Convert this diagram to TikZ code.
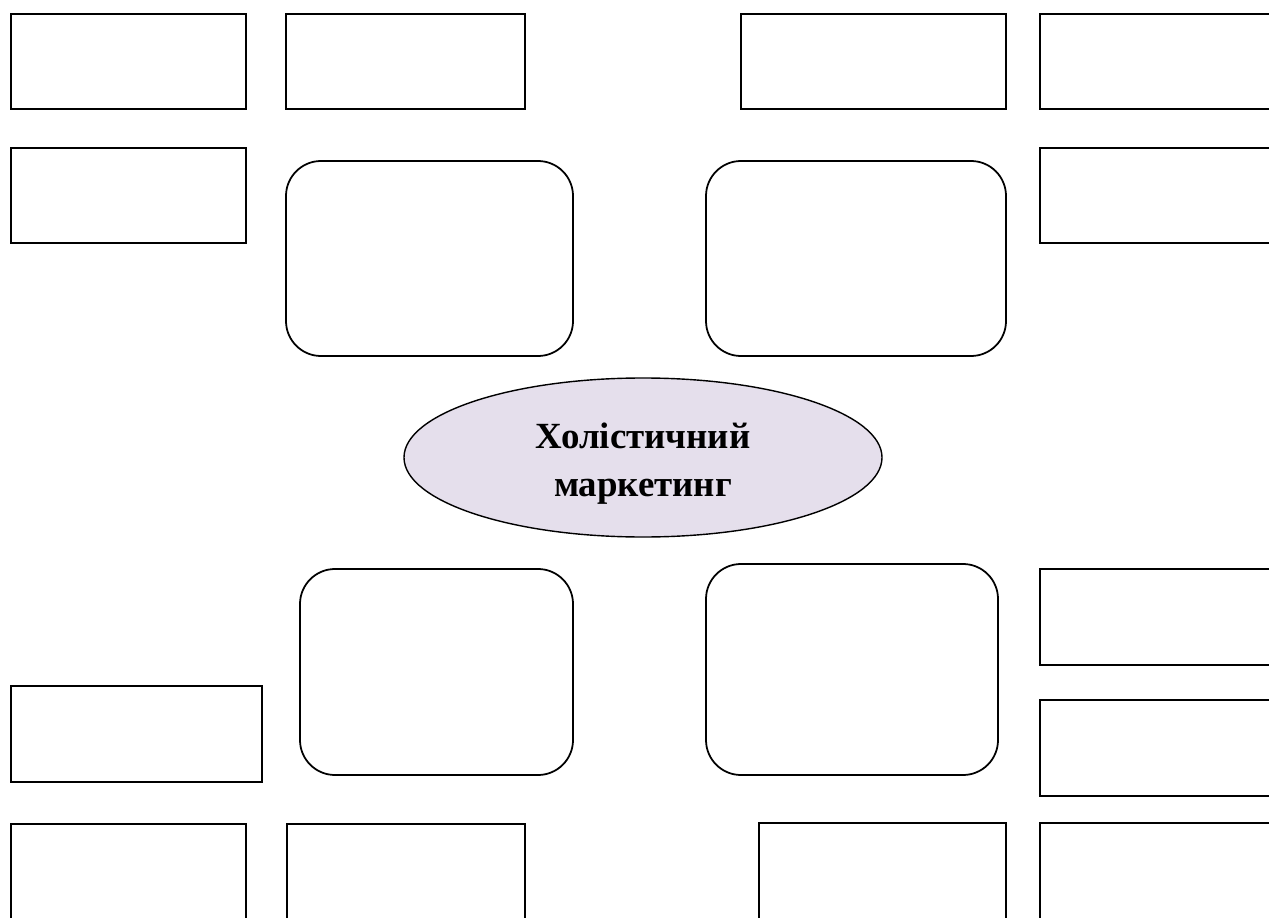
\documentclass[tikz,border=0pt]{standalone}
\usepackage{fontspec}
\setmainfont{Liberation Serif}
\usepackage{xcolor}
\usepackage{tikz}
\usetikzlibrary{
  positioning,
  shapes.geometric
}
\definecolor{ellfill}{HTML}{E5DFEC}
\tikzset{
  plainbox/.style={rectangle,draw,line width=1pt,inner sep=0pt},
  roundbox/.style={rectangle,draw,line width=1pt,rounded corners=7mm,inner sep=0pt},
  core/.style={ellipse,draw,line width=0.8pt,fill=ellfill,inner sep=0pt},
  coretext/.style={align=center,inner sep=0pt,font=\fontsize{21}{27}\selectfont\bfseries}
}

\begin{document}
\begin{tikzpicture}[x=0.2mm,y=-0.2mm]
    \clip (0,0) rectangle (1269,918);

    % Верхній ряд
    \node[plainbox,minimum width=47mm,minimum height=19mm] (top1) at (128.5,61.5) {};
    \node[plainbox,minimum width=47.8mm,minimum height=19mm] (top2) at (405.5,61.5) {};
    \node[plainbox,minimum width=53mm,minimum height=19mm] (top3) at (873.5,61.5) {};
    \node[plainbox,minimum width=52mm,minimum height=19mm] (top4) at (1170,61.5) {};

    % Другий ряд
    \node[plainbox,minimum width=47mm,minimum height=19mm] (left1) at (128.5,195.5) {};
    \node[plainbox,minimum width=52mm,minimum height=19mm] (right1) at (1170,195.5) {};

    % Заокруглені блоки
    \node[roundbox,minimum width=57.4mm,minimum height=39mm] (rnd1) at (429.5,258.5) {};
    \node[roundbox,minimum width=60mm,minimum height=39mm] (rnd2) at (856,258.5) {};
    \node[roundbox,minimum width=54.6mm,minimum height=41.2mm] (rnd3) at (436.5,672) {};
    \node[roundbox,minimum width=58.4mm,minimum height=42.2mm] (rnd4) at (852,669.5) {};

    % Центр
    \node[core,minimum width=95.6mm,minimum height=31.8mm] (holist) at (643,457.5) {};
    \node[coretext] (holisttext) at ([yshift=-1.2mm]holist.center) {Холістичний\\маркетинг};

    % Праворуч унизу
    \node[plainbox,minimum width=52mm,minimum height=19.2mm] (right2) at (1170,617) {};
    \node[plainbox,minimum width=52mm,minimum height=19.2mm] (right3) at (1170,748) {};

    % Ліворуч унизу
    \node[plainbox,minimum width=50.2mm,minimum height=19.2mm] (left2) at (136.5,734) {};

    % Нижній ряд
    \node[plainbox,minimum width=47mm,minimum height=20mm] (bot1) at (128.5,874) {};
    \node[plainbox,minimum width=47.6mm,minimum height=20mm] (bot2) at (406,874) {};
    \node[plainbox,minimum width=49.4mm,minimum height=20mm] (bot3) at (882.5,873) {};
    \node[plainbox,minimum width=52mm,minimum height=20mm] (bot4) at (1170,873) {};
\end{tikzpicture}
\end{document}
